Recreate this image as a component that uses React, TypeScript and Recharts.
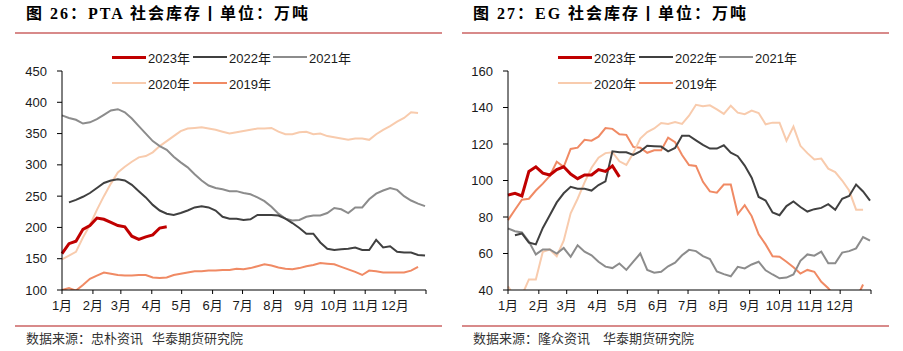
import { LineChart, Line, XAxis, YAxis } from 'recharts'

// week index 0..52, month ticks sit at the first day of each month (in weeks)
const weeks = Array.from({ length: 53 }, (_, i) => i)
const monthTicks = [0, 4.43, 8.43, 12.86, 17.14, 21.57, 25.86, 30.29, 34.71, 39, 43.43, 47.71, 52.14]
const monthLabels = ['1月', '2月', '3月', '4月', '5月', '6月', '7月', '8月', '9月', '10月', '11月', '12月', '']

// PTA 社会库存
const pta2023 = [158, 174, 178, 197, 203, 215, 213, 208, 203, 201, 186, 181, 185, 188, 199, 201]
const pta2022 = [null, 240, 244, 249, 255, 263, 271, 275, 277, 275, 268, 258, 248, 236, 227, 222, 220, 223, 227, 232, 234, 232, 227,
  217, 214, 214, 212, 213, 220, 220, 220, 219, 214, 207, 199, 190, 190, 176, 166, 164, 165, 166, 168, 164, 164, 180, 168, 170, 161, 160, 160, 156, 155]
const pta2021 = [379, 375, 372, 366, 368, 373, 380, 387, 389, 384, 374, 362, 350, 338, 330, 324, 313, 304, 296, 285, 275, 267, 263,
  261, 258, 258, 255, 253, 248, 242, 233, 222, 214, 211, 212, 217, 219, 219, 223, 231, 229, 223, 232, 232, 245, 254, 259, 263, 260, 250, 243, 238, 234]
const pta2020 = [149, 155, 161, 184, 204, 228, 250, 270, 288, 297, 305, 312, 314, 320, 330, 338, 346, 354, 358, 359, 360, 358, 356,
  353, 350, 352, 354, 356, 358, 358, 359, 353, 349, 349, 352, 353, 349, 350, 346, 344, 342, 340, 342, 342, 340, 349, 356, 362, 369, 375, 384, 383]
const pta2019 = [100, 103, 99, 108, 118, 123, 128, 126, 124, 123, 123, 124, 124, 120, 119, 120, 124, 126, 128, 130, 130, 131, 131,
  132, 132, 134, 133, 135, 138, 141, 139, 136, 134, 133, 135, 138, 140, 143, 142, 141, 137, 133, 129, 124, 131, 130, 128, 128, 128, 128, 131, 137]

// EG 社会库存
const eg2023 = [92, 93, 91.5, 105, 107.5, 104, 103, 106, 107.5, 103.5, 101, 103, 103, 106, 105, 108, 102]
const eg2022 = [null, 70, 71, 66, 65, 74, 81, 88, 93, 96.5, 95.5, 95.5, 94.5, 97.5, 99.5, 116, 115.5, 115.5, 114, 116, 119, 118.8, 118.6, 116, 117.8, 124.5,
  124.5, 122, 119.5, 117.5, 117.5, 119.3, 115.2, 113.3, 108.2, 101.5, 91, 89, 82.5, 81, 86, 88.5, 85.5, 83, 84.3, 85, 87, 84, 90, 91.5, 97.8, 94, 89]
const eg2021 = [73.7, 72.2, 71.5, 66.5, 59.5, 62.2, 62.2, 60, 63, 58.2, 64.5, 61, 59, 55.5, 52.8, 52, 54.5, 51, 55.5, 60, 51, 49.5, 50, 53, 55, 59,
  62, 61.3, 58.6, 57, 50.2, 48.7, 47.5, 52.7, 51.8, 54, 55.5, 50.8, 48.5, 46.4, 46.8, 48.5, 56, 59.5, 58.8, 61, 54.6, 54.6, 60.5, 61.3, 62.8, 69, 67]
const eg2020 = [42, 36, 37, 45.8, 45.8, 61, 62.2, 58.5, 67, 82, 90, 99, 107, 112.5, 115, 115.5, 110.5, 108.5, 115, 123, 126.5, 128.5, 131.5, 131, 132, 131,
  135.5, 141.5, 140.7, 141.2, 139, 136.5, 141, 137.2, 136.3, 138.3, 137, 130.8, 131.7, 131.7, 121.8, 129.5, 119, 115, 111.5, 112, 106.5, 104.6, 100, 94.5, 84, 84]
const eg2019 = [78.3, 84, 89.5, 90, 94.5, 98.3, 102.5, 110.3, 107.5, 117.3, 118, 122.3, 121.8, 124, 128.7, 128.3, 125.3, 125, 118.4, 118, 115.2, 116.6, 116.6, 123.5, 121, 114,
  108.5, 108, 99.3, 94, 93.3, 97.8, 97.8, 81.6, 86.5, 80.5, 70.5, 65, 58.5, 58.2, 55.5, 52.5, 49, 51, 50, 44.5, 41, 36, 33, 32, 35, 43]

const ptaTicks = [100, 150, 200, 250, 300, 350, 400, 450]
const egTicks = [40, 60, 80, 100, 120, 140, 160]

const seriesStyle = [
  { key: 'y2023', name: '2023年', color: '#C00000', width: 3 },
  { key: 'y2022', name: '2022年', color: '#404040', width: 2 },
  { key: 'y2021', name: '2021年', color: '#8C8C8C', width: 2 },
  { key: 'y2020', name: '2020年', color: '#F8CBAD', width: 2 },
  { key: 'y2019', name: '2019年', color: '#F08A64', width: 2 },
]

const buildRows = (s23: any[], s22: any[], s21: any[], s20: any[], s19: any[]) =>
  weeks.map(i => ({
    w: i,
    y2023: s23[i] ?? null,
    y2022: s22[i] ?? null,
    y2021: s21[i] ?? null,
    y2020: s20[i] ?? null,
    y2019: s19[i] ?? null,
  }))

const sans = "'Liberation Sans', 'Noto Sans CJK SC', sans-serif"

function LegendItem({ s, x, y }: any) {
  return (
    <div style={{ position: 'absolute', left: x, top: y - 9, display: 'flex', alignItems: 'center', height: 18 }}>
      <div style={{ width: 34, height: s.width, background: s.color, marginRight: 2 }} />
      <span style={{ fontSize: 13, fontFamily: sans, color: '#1a1a1a' }}>{s.name}</span>
    </div>
  )
}

function Panel({ left, width, inset, plotLeft, plotRight, title, source, gap, rows, domain, ticks }: any) {
  const lx = plotLeft + 50
  return (
    <div style={{ position: 'absolute', left, top: 0, width, height: 351 }}>
      <div style={{
        position: 'absolute', left: inset + 11, top: 0, fontSize: 16, fontWeight: 700, letterSpacing: 2,
        fontFamily: "'Liberation Serif', 'Noto Sans CJK SC', serif", color: '#000', whiteSpace: 'nowrap',
      }}>{title}</div>
      <div style={{ position: 'absolute', left: inset, top: 32, width: 427, height: 2, background: '#D88A8A' }} />
      <div style={{ position: 'absolute', left: inset, top: 325, width: 427, height: 1.5, background: '#D88A8A' }} />
      <div style={{
        position: 'absolute', left: inset + 11, top: 328, fontSize: 13, fontFamily: "'Noto Sans CJK SC', sans-serif",
        color: '#333', whiteSpace: 'nowrap',
      }}>
        <span>{source[0]}</span><span style={{ marginLeft: gap }}>{source[1]}</span>
      </div>

      <LineChart width={width} height={351} data={rows}
        margin={{ top: 71, right: width - plotRight, bottom: 31, left: 0 }}
        style={{ position: 'absolute', left: 0, top: 0 }}>
        <XAxis dataKey="w" type="number" domain={[0, 52.14]} ticks={monthTicks} interval={0}
          tickFormatter={(v: number) => monthLabels[monthTicks.indexOf(v)] ?? ''}
          height={30} tickSize={4} tickMargin={7}
          axisLine={{ stroke: '#000' }} tickLine={{ stroke: '#000' }}
          tick={{ fontSize: 13, fill: '#1a1a1a', fontFamily: sans }} />
        <YAxis type="number" domain={domain} ticks={ticks} interval={0} allowDataOverflow
          width={plotLeft} tickSize={5} tickMargin={10}
          axisLine={{ stroke: '#000' }} tickLine={{ stroke: '#000' }}
          tick={{ fontSize: 13, fill: '#1a1a1a', fontFamily: sans }} />
        {seriesStyle.slice().reverse().map(s => (
          <Line key={s.key} type="linear" dataKey={s.key} stroke={s.color} strokeWidth={s.width}
            dot={false} activeDot={false} connectNulls={false} isAnimationActive={false} />
        ))}
      </LineChart>

      <LegendItem s={seriesStyle[0]} x={lx} y={57} />
      <LegendItem s={seriesStyle[1]} x={lx + 81} y={57} />
      <LegendItem s={seriesStyle[2]} x={lx + 161} y={57} />
      <LegendItem s={seriesStyle[3]} x={lx} y={83} />
      <LegendItem s={seriesStyle[4]} x={lx + 81} y={83} />
    </div>
  )
}

export default function App() {
  const ptaRows = buildRows(pta2023, pta2022, pta2021, pta2020, pta2019)
  const egRows = buildRows(eg2023, eg2022, eg2021, eg2020, eg2019)
  return (
    <div style={{ position: 'relative', width: 903, height: 351, background: '#fff' }}>
      <style>{'body{margin:0}'}</style>
      <Panel left={0} width={450} inset={15} plotLeft={62} plotRight={426}
        title="图 26：PTA 社会库存丨单位：万吨" source={['数据来源：忠朴资讯', '华泰期货研究院']} gap={9}
        rows={ptaRows} domain={[100, 450]} ticks={ptaTicks} />
      <Panel left={455} width={448} inset={7} plotLeft={53} plotRight={416}
        title="图 27：EG 社会库存丨单位：万吨" source={['数据来源：隆众资讯', '华泰期货研究院']} gap={13}
        rows={egRows} domain={[40, 160]} ticks={egTicks} />
    </div>
  )
}
